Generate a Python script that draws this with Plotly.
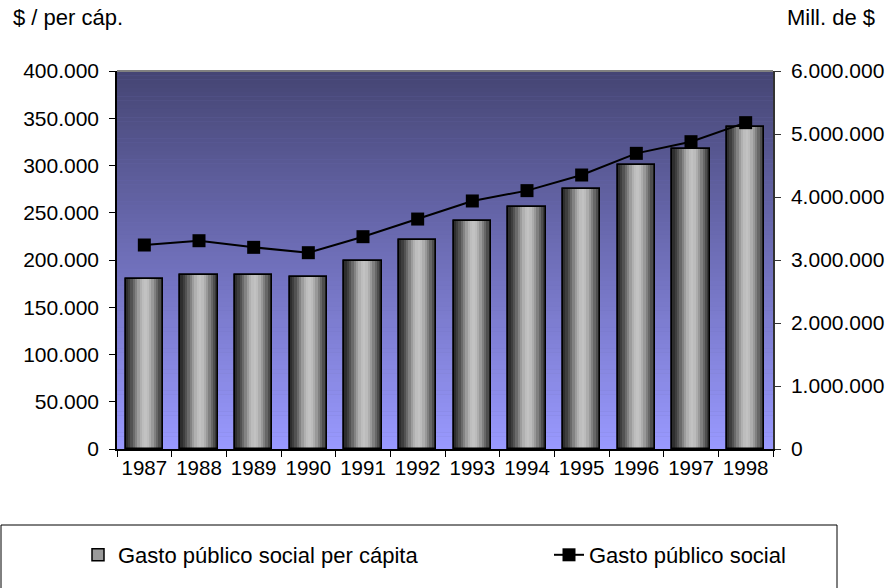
import plotly.graph_objects as go

# ---- data ----
years = ["1987", "1988", "1989", "1990", "1991", "1992",
         "1993", "1994", "1995", "1996", "1997", "1998"]
gasto_per_capita = [180000, 184000, 184000, 182000, 199000, 221000,
                    241000, 256000, 275000, 300500, 317500, 341000]
gasto_social = [3238000, 3306000, 3201000, 3116000, 3370000, 3650000,
                3937000, 4101000, 4349000, 4693000, 4878000, 5180000]
left_ticks = [0, 50000, 100000, 150000, 200000, 250000, 300000, 350000, 400000]
right_ticks = [0, 1000000, 2000000, 3000000, 4000000, 5000000, 6000000]

name_bar = "Gasto público social per cápita"
name_line = "Gasto público social"

# ---- layout constants (page pixels) ----
W, H = 888, 588
L, R, T, B = 117, 773, 71, 449
pw, ph = R - L, B - T

def px_x(x):  # page x -> paper
    return (x - L) / pw

def px_y(y):  # page y -> paper
    return (B - y) / ph

FONT = "Liberation Sans, Arial, sans-serif"
fig = go.Figure()

# cylinder-like shading for bars: overlaid stripes
BAR_W = 0.68
stripe_colors = ['#2e2e2e', '#3e3e3e', '#525252', '#6a6a6a', '#838383', '#9c9c9c',
                 '#b0b0b0', '#bdbdbd', '#c2c2c2', '#bcbcbc', '#adadad', '#999999',
                 '#808080', '#676767', '#4e4e4e', '#383838']
n = len(stripe_colors)
sw = BAR_W / n

# base bar (gives the legend entry)
fig.add_trace(go.Bar(x=years, y=gasto_per_capita, name=name_bar, width=BAR_W,
                     marker=dict(color='#9a9a9a', line=dict(color='black', width=1.5)),
                     showlegend=True, legend='legend', hoverinfo='skip'))
for i, c in enumerate(stripe_colors):
    fig.add_trace(go.Bar(x=years, y=gasto_per_capita, width=sw + 0.004,
                         offset=-BAR_W / 2 + i * sw,
                         marker=dict(color=c, line=dict(width=0)),
                         showlegend=False, hoverinfo='skip'))
# outline on top
fig.add_trace(go.Bar(x=years, y=gasto_per_capita, width=BAR_W,
                     marker=dict(color='rgba(0,0,0,0)', line=dict(color='black', width=1.5)),
                     showlegend=False, hoverinfo='skip'))

fig.add_trace(go.Scatter(x=years, y=gasto_social, name=name_line, yaxis='y2',
                         mode='lines+markers', legend='legend2',
                         line=dict(color='black', width=2),
                         marker=dict(symbol='square', size=13, color='black')))

# gradient background of the plot area
shapes = []
top = (69, 69, 115)
bot = (153, 153, 255)
N = 90
for k in range(N):
    t = (k + 0.5) / N
    col = tuple(round(top[j] + (bot[j] - top[j]) * t) for j in range(3))
    shapes.append(dict(type='rect', xref='paper', yref='paper',
                       x0=0, x1=1, y0=1 - (k + 1) / N - 0.001, y1=1 - k / N,
                       fillcolor='rgb(%d,%d,%d)' % col, line=dict(width=0),
                       layer='below'))
# top frame line
shapes.append(dict(type='line', xref='paper', yref='paper', x0=0, x1=1, y0=1, y1=1,
                   line=dict(color='#808080', width=2)))
# legend box
shapes.append(dict(type='rect', xref='paper', yref='paper',
                   x0=px_x(1), x1=px_x(837), y0=px_y(600), y1=px_y(525),
                   line=dict(color='black', width=1), fillcolor='rgba(0,0,0,0)'))

leg_common = dict(orientation='h', yanchor='middle', xanchor='left',
                  bgcolor='rgba(0,0,0,0)', borderwidth=0,
                  font=dict(family=FONT, size=22))

fig.update_layout(
    width=W, height=H,
    margin=dict(l=L, r=W - R, t=T, b=H - B, autoexpand=False),
    paper_bgcolor='white', plot_bgcolor='#7070b8',
    barmode='overlay', bargap=0,
    separators=',.',
    font=dict(family=FONT, size=21, color='black'),
    shapes=shapes,
    showlegend=True,
    legend=dict(x=px_x(78), y=px_y(555), **leg_common),
    legend2=dict(x=px_x(549), y=px_y(555), **leg_common),
    xaxis=dict(type='category', tickson='boundaries', ticks='outside', ticklen=6,
               tickcolor='black', showline=True, linecolor='black', linewidth=1.5,
               showgrid=False, zeroline=False, range=[-0.5, 11.5],
               tickfont=dict(size=20.5)),
    yaxis=dict(range=[0, 400000], tickvals=left_ticks, tickformat=',d',
               ticks='outside', ticklen=6, tickcolor='black', showline=True,
               linecolor='black', linewidth=1.5, showgrid=False, zeroline=False,
               ticklabelstandoff=6, tickfont=dict(size=21)),
    yaxis2=dict(range=[0, 6000000], tickvals=right_ticks, tickformat=',d',
                overlaying='y', side='right', ticks='outside', ticklen=6,
                tickcolor='#333', showline=True, linecolor='#333', linewidth=1.5,
                showgrid=False, zeroline=False, ticklabelstandoff=6,
                tickfont=dict(size=21)),
    annotations=[
        dict(text='$ / per cáp.', xref='paper', yref='paper', x=px_x(11), y=px_y(17),
             xanchor='left', yanchor='middle', showarrow=False, font=dict(size=22)),
        dict(text='Mill. de $', xref='paper', yref='paper', x=px_x(877), y=px_y(17),
             xanchor='right', yanchor='middle', showarrow=False, font=dict(size=22)),
    ],
)

fig.write_html("out.html",
               config={'displayModeBar': False},
               post_script="document.body.style.margin='0px';"
                           "document.body.style.overflow='hidden';")
